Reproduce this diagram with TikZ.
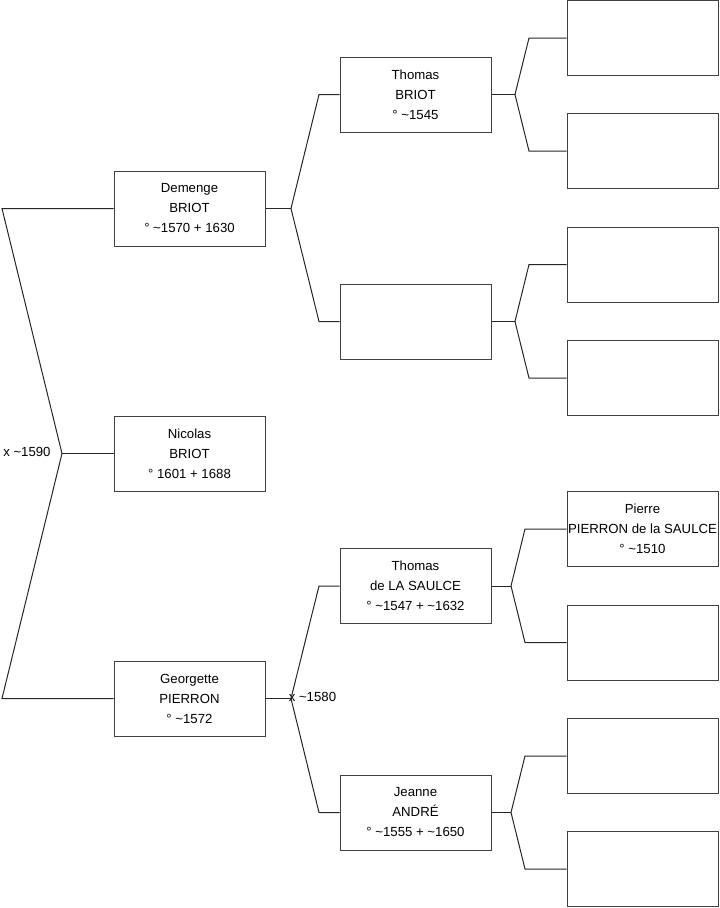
\documentclass[tikz,border=0pt]{standalone}
\usepackage{fontspec}
\setmainfont{Liberation Sans}
\begin{document}
\begin{tikzpicture}[x=0.75pt,y=-0.75pt,
  person/.style={draw=black!75, line width=0.75pt, minimum width=113.25pt, minimum height=56.25pt,
    inner sep=0pt, align=center, font=\fontsize{9.9}{15}\selectfont},
  link/.style={draw=black!85, line width=0.75pt},
  lbl/.style={inner sep=0pt, font=\fontsize{9.9}{11}\selectfont}]
\useasboundingbox (0,0) rectangle (719,908);
% generation 1
\node[person] (demenge) at (189.5,208.5) {Demenge\\BRIOT\\° \textasciitilde1570 + 1630};
\node[person] (nicolas) at (189.5,453.5) {Nicolas\\BRIOT\\° 1601 + 1688};
\node[person] (georgette) at (189.5,698.5) {Georgette\\PIERRON\\° \textasciitilde1572};
% generation 2
\node[person] (thomasb) at (415.5,94.5) {Thomas\\BRIOT\\° \textasciitilde1545};
\node[person] (e2) at (415.5,321.5) {};
\node[person] (thomasl) at (415.5,586) {Thomas\\de LA SAULCE\\° \textasciitilde1547 + \textasciitilde1632};
\node[person] (jeanne) at (415.5,812.5) {Jeanne\\ANDRÉ\\° \textasciitilde1555 + \textasciitilde1650};
% generation 3
\node[person] (r1) at (642.5,38) {};
\node[person] (r2) at (642.5,151) {};
\node[person] (r3) at (642.5,264.5) {};
\node[person] (r4) at (642.5,378) {};
\node[person] (pierre) at (642.5,529) {Pierre\\PIERRON de la SAULCE\\° \textasciitilde1510};
\node[person] (r6) at (642.5,642.5) {};
\node[person] (r7) at (642.5,756) {};
\node[person] (r8) at (642.5,869) {};
% labels
\node[lbl, anchor=west] (m1) at (3,452) {x \textasciitilde1590};
\node[lbl, anchor=west] (m2) at (288.5,697) {x \textasciitilde1580};
% junctions
\coordinate (ja) at (2,208.5);
\coordinate (jb) at (62,453.5);
\coordinate (jc) at (2,698.5);
\coordinate (jd) at (291,208.5);
\coordinate (jd1) at (319,94.5);
\coordinate (jd2) at (319,321.5);
\coordinate (jg) at (291,698.5);
\coordinate (jg1) at (319,586);
\coordinate (jg2) at (319,812.5);
\coordinate (jt) at (515,94.5);
\coordinate (jt1) at (529,38);
\coordinate (jt2) at (529,151);
\coordinate (je) at (515,321.5);
\coordinate (je1) at (529,264.5);
\coordinate (je2) at (529,378);
\coordinate (jl) at (511,586);
\coordinate (jl1) at (525,529);
\coordinate (jl2) at (525,642.5);
\coordinate (jj) at (511,812.5);
\coordinate (jj1) at (525,756);
\coordinate (jj2) at (525,869);
% connectors
\draw[link] (demenge.west) -- (ja) -- (jb) -- (jc) -- (georgette.west);
\draw[link] (jb) -- (nicolas.west);
\draw[link] (demenge.east) -- (jd);
\draw[link] (thomasb.west) -- (jd1) -- (jd) -- (jd2) -- (e2.west);
\draw[link] (georgette.east) -- (jg);
\draw[link] (thomasl.west) -- (jg1) -- (jg) -- (jg2) -- (jeanne.west);
\draw[link] (thomasb.east) -- (jt);
\draw[link] (r1.west) -- (jt1) -- (jt) -- (jt2) -- (r2.west);
\draw[link] (e2.east) -- (je);
\draw[link] (r3.west) -- (je1) -- (je) -- (je2) -- (r4.west);
\draw[link] (thomasl.east) -- (jl);
\draw[link] (pierre.west) -- (jl1) -- (jl) -- (jl2) -- (r6.west);
\draw[link] (jeanne.east) -- (jj);
\draw[link] (r7.west) -- (jj1) -- (jj) -- (jj2) -- (r8.west);
\end{tikzpicture}
\end{document}
